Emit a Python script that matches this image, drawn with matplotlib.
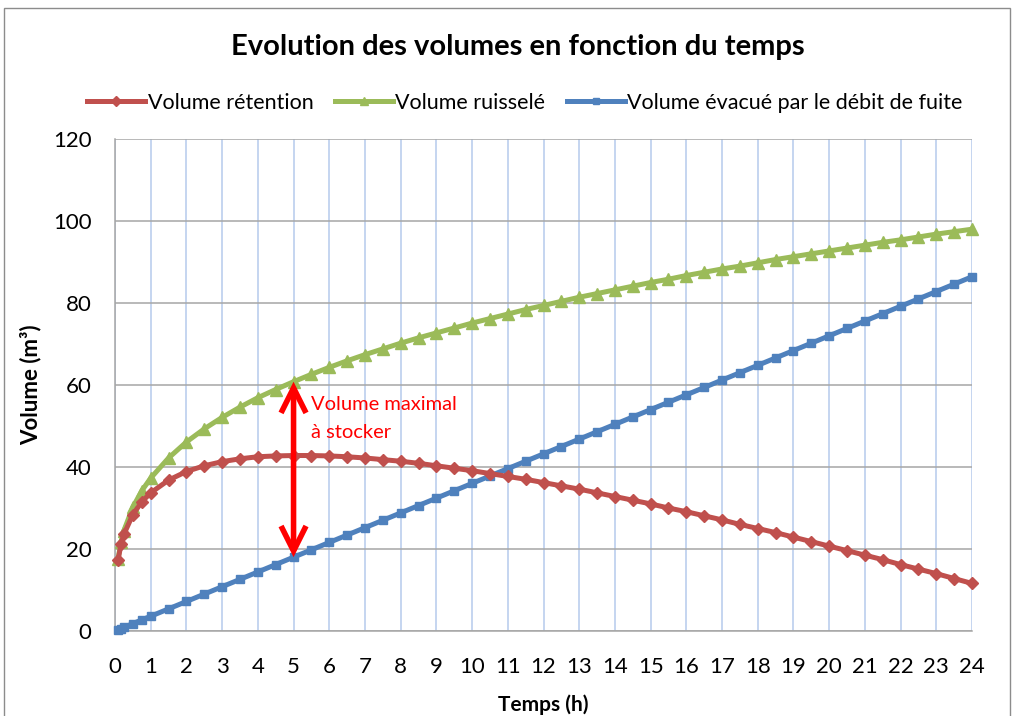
import matplotlib
matplotlib.use("Agg")
import matplotlib.pyplot as plt
from matplotlib.patches import Rectangle

# ---- data ----
temps = [0.083, 0.167, 0.25, 0.5, 0.75, 1, 1.5, 2, 2.5, 3, 3.5, 4, 4.5, 5, 5.5, 6, 6.5, 7,
         7.5, 8, 8.5, 9, 9.5, 10, 10.5, 11, 11.5, 12, 12.5, 13, 13.5, 14, 14.5, 15, 15.5,
         16, 16.5, 17, 17.5, 18, 18.5, 19, 19.5, 20, 20.5, 21, 21.5, 22, 22.5, 23, 23.5, 24]

vol_ruissele = [17.5, 21.7, 24.5, 30.2, 34.2, 37.3, 42.2, 46.1, 49.3, 52.1, 54.6, 56.9, 58.9,
                60.8, 62.6, 64.3, 65.9, 67.4, 68.8, 70.2, 71.5, 72.7, 73.9, 75.1, 76.2, 77.3,
                78.4, 79.4, 80.4, 81.4, 82.3, 83.2, 84.1, 85.0, 85.8, 86.7, 87.5, 88.3, 89.0,
                89.8, 90.6, 91.3, 92.0, 92.7, 93.4, 94.1, 94.8, 95.4, 96.1, 96.8, 97.4, 98.0]

vol_evacue = [0.3, 0.6, 0.9, 1.8, 2.7, 3.6, 5.4, 7.2, 9.0, 10.8, 12.6, 14.4, 16.2, 18.0, 19.8,
              21.6, 23.4, 25.2, 27.0, 28.8, 30.6, 32.4, 34.2, 36.0, 37.8, 39.6, 41.4, 43.2,
              45.0, 46.8, 48.6, 50.4, 52.2, 54.0, 55.8, 57.6, 59.4, 61.2, 63.0, 64.8, 66.6,
              68.4, 70.2, 72.0, 73.8, 75.6, 77.4, 79.2, 81.0, 82.8, 84.6, 86.4]

vol_retention = [17.2, 21.1, 23.6, 28.4, 31.5, 33.7, 36.8, 38.9, 40.3, 41.3, 42.0, 42.5, 42.7,
                 42.8, 42.8, 42.7, 42.5, 42.2, 41.8, 41.4, 40.9, 40.3, 39.7, 39.1, 38.4, 37.7,
                 37.0, 36.2, 35.4, 34.6, 33.7, 32.8, 31.9, 31.0, 30.0, 29.1, 28.1, 27.1, 26.0,
                 25.0, 24.0, 22.9, 21.8, 20.7, 19.6, 18.5, 17.4, 16.2, 15.1, 14.0, 12.8, 11.6]

x_ticks = list(range(0, 25))
y_ticks = [0, 20, 40, 60, 80, 100, 120]
t_max = 5  # time of maximal storage

plt.rcParams['font.family'] = ['Lato', 'DejaVu Sans']

fig = plt.figure(figsize=(10.15, 7.16), dpi=100)
fig.patch.set_facecolor('white')
fig.patches.append(Rectangle((4 / 1015, -0.01), 1006 / 1015, 1 - 8 / 716 + 0.01,
                             transform=fig.transFigure, fill=False, edgecolor='#8c8c8c',
                             linewidth=1.0, zorder=0))

ax = fig.add_axes([115 / 1015, 1 - 631 / 716, 857 / 1015, 492 / 716])

red, green, blue = '#C0504D', '#9BBB59', '#4F81BD'
ax.plot(temps, vol_retention, color=red, lw=3.6, marker='D', ms=5.8, label='Volume rétention',
        zorder=4, clip_on=False)
ax.plot(temps, vol_ruissele, color=green, lw=3.6, marker='^', ms=8, label='Volume ruisselé',
        zorder=3, clip_on=False)
ax.plot(temps, vol_evacue, color=blue, lw=3.6, marker='s', ms=6,
        label='Volume évacué par le débit de fuite', zorder=3, clip_on=False)

ax.set_xlim(0, 24)
ax.set_ylim(0, 120)
ax.set_xticks(x_ticks)
ax.set_yticks(y_ticks)
ax.tick_params(axis='both', length=0, labelsize=16, colors='black')
ax.tick_params(axis='x', pad=19)
ax.tick_params(axis='y', pad=17)

ax.grid(axis='y', color='#a6a6a6', lw=1.1, zorder=0)
ax.grid(axis='x', color='#c5d5f0', lw=1.4, zorder=0)
ax.set_axisbelow(True)
for s in ['top', 'right']:
    ax.spines[s].set_visible(False)
for s in ['left', 'bottom']:
    ax.spines[s].set_color('#a6a6a6')
    ax.spines[s].set_linewidth(1.1)

ax.set_xlabel('Temps (h)', fontsize=15, fontweight='bold', labelpad=12)
ax.set_ylabel('Volume (m³)', fontsize=16, fontweight='bold', labelpad=8)

# annotation: maximal volume to store
i5 = temps.index(t_max)
ax.annotate('', xy=(t_max, vol_evacue[i5]), xytext=(t_max, vol_ruissele[i5]),
            arrowprops=dict(arrowstyle='<->,head_length=0.9,head_width=0.45',
                            color='#ff0000', lw=4, mutation_scale=20,
                            shrinkA=0, shrinkB=0, capstyle='butt', joinstyle='miter'),
            zorder=6)
ax.text(t_max + 0.5, 57.3, 'Volume maximal\nà stocker', color='#ff0000', fontsize=14.5,
        va='top', ha='left', linespacing=1.8)

fig.text(0.51, 1 - 47 / 716, 'Evolution des volumes en fonction du temps', ha='center',
         va='center', fontsize=21, fontweight='bold')

fig.legend(loc='center', bbox_to_anchor=(0.517, 1 - 103 / 716), ncol=3, frameon=False,
           fontsize=15.5, handlelength=2.7, handletextpad=0.1, columnspacing=1.0, numpoints=1,
           markerscale=0.8)

fig.savefig('out.png', dpi=100, facecolor='white')
